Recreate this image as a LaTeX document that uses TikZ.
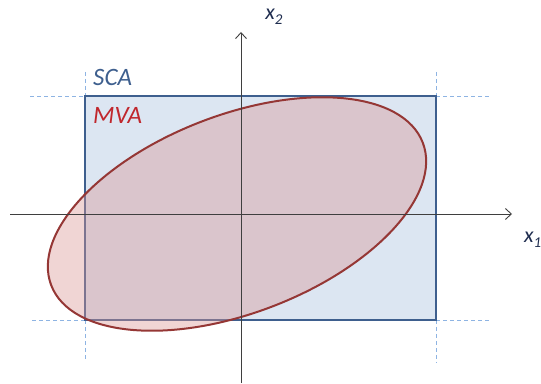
\documentclass[tikz,border=0pt]{standalone}
\usepackage{fontspec}
\setmainfont{Carlito}
\usetikzlibrary{arrows.meta, positioning}
\definecolor{boxblue}{HTML}{3E5F8E}
\definecolor{boxfill}{HTML}{DCE6F2}
\definecolor{guide}{HTML}{8EB4E3}
\definecolor{ellred}{HTML}{953735}
\definecolor{ellfill}{HTML}{D99594}
\definecolor{mvatext}{HTML}{C0272D}
\definecolor{axisgray}{HTML}{3F3F3F}
\definecolor{labelnavy}{HTML}{1F2D4F}
\newcommand{\axsub}[1]{\raisebox{-5pt}{\fontsize{15}{15}\selectfont #1}}

\begin{document}
\begin{tikzpicture}[x=1pt, y=1pt,
    axisline/.style={axisgray, line width=0.9pt, -{Straight Barb[length=6pt, width=11pt]}},
    guideline/.style={guide, line width=0.9pt, dash pattern=on 4pt off 3pt},
    axislabel/.style={font=\fontsize{22}{22}\selectfont\itshape, text=labelnavy, inner sep=0pt},
    setlabel/.style={font=\fontsize{25}{25}\selectfont\itshape, inner sep=0pt}]
    \useasboundingbox (0,0) rectangle (541,383);

    % Box corners (SCA)
    \coordinate (nw) at (85,287);
    \coordinate (se) at (436,63);
    \coordinate (ne) at (436,287);
    \coordinate (sw) at (85,63);

    % Dashed guides
    \draw[guideline] (30,287) -- (nw);
    \draw[guideline] (ne) -- (490,287);
    \draw[guideline] (32,63) -- (sw);
    \draw[guideline] (se) -- (490,63);
    \draw[guideline] (85,311) -- (nw);
    \draw[guideline] (436,311) -- (ne);
    \draw[guideline] (sw) -- (85,22);
    \draw[guideline] (se) -- (436,20);

    % SCA box
    \fill[boxfill] (nw) rectangle (se);
    \draw[boxblue, line width=2.5pt] (nw) rectangle (se);

    % MVA ellipse
    \coordinate (centre) at (237,169);
    \draw[ellred, line width=2pt, fill=ellfill, fill opacity=0.4]
        (centre) ellipse [x radius=199, y radius=99, rotate=21];

    % Axes
    \coordinate (xstart) at (10,169);
    \coordinate (xend) at (512,169);
    \coordinate (ystart) at (241,0);
    \coordinate (yend) at (241,351);
    \draw[axisline] (xstart) -- (xend);
    \draw[axisline] (ystart) -- (yend);

    % Labels
    \node[axislabel] (xtwo) at (274,366) {x\axsub{2}};
    \node[axislabel, anchor=west] (xone) at (524,143) {x\axsub{1}};
    \node[setlabel, text=boxblue, anchor=west] (sca) at (93,306) {SCA};
    \node[setlabel, text=mvatext, anchor=west] (mva) at (93,268) {MVA};
\end{tikzpicture}
\end{document}
